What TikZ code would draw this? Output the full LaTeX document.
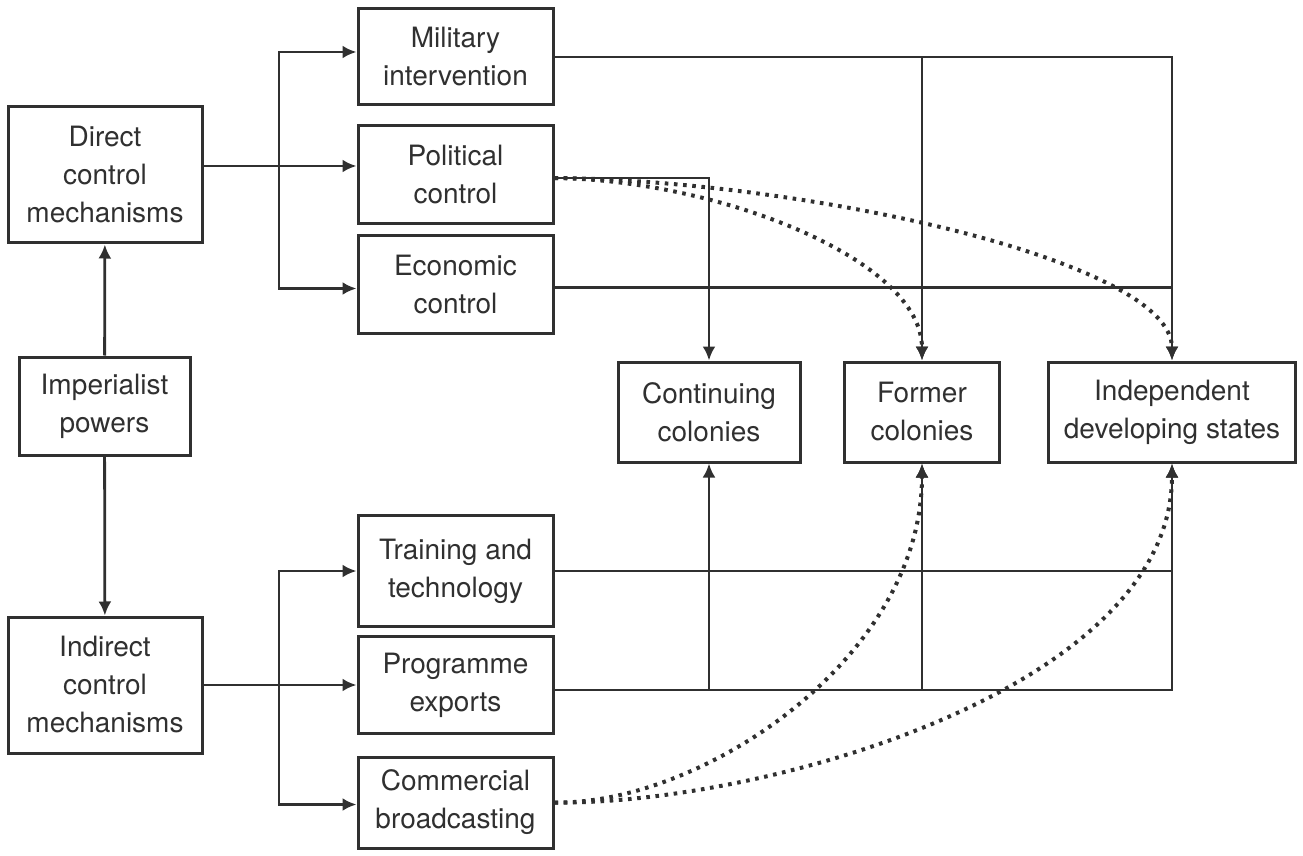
\documentclass[tikz,border=0pt]{standalone}
\usepackage{fontspec}
\setmainfont{TeX Gyre Heros}
\usetikzlibrary{arrows.meta}
\definecolor{ink}{HTML}{303030}
\tikzset{
  box/.style={draw=ink, line width=1.5pt, text=ink, align=center, inner sep=0pt,
    font=\fontsize{14pt}{19pt}\selectfont},
  link/.style={draw=ink, line width=1.4pt},
  arr/.style={link, -{Latex[length=7pt,width=6.5pt]}},
  dots/.style={draw=ink, line width=2pt, dash pattern=on 1.8pt off 2.8pt, -{Latex[length=7pt,width=6.5pt]}}
}
\begin{document}
\begin{tikzpicture}[x=0.5pt,y=-0.5pt]
\useasboundingbox (0,0) rectangle (1303,856);
% left column
\node[box, minimum width=97pt, minimum height=68pt] (dir) at (105,175) {Direct\\control\\mechanisms};
\node[box, minimum width=85.5pt, minimum height=49pt] (imp) at (104.5,406) {Imperialist\\powers};
\node[box, minimum width=97pt, minimum height=68pt] (ind) at (105,685) {Indirect\\control\\mechanisms};
% middle column
\foreach \n/\y/\h/\t in {mil/57/96/{Military\\intervention}, pol/175/98/{Political\\control}, eco/284.5/97/{Economic\\control}, tra/571/111/{Training and\\technology}, pro/685/97/{Programme\\exports}, com/802.5/91/{Commercial\\broadcasting}}
  \node[box, minimum width=97.5pt, minimum height=\h*0.5pt] (\n) at (455.5,\y) {\t};
% target states
\foreach \n/\x/\w/\t in {cont/709/182/{Continuing\\colonies}, form/922/155/{Former\\colonies}, indep/1172/247/{Independent\\developing states}}
  \node[box, minimum width=\w*0.5pt, minimum height=50pt] (\n) at (\x,412) {\t};

\draw[arr] (imp) -- (dir);
\draw[arr] (imp) -- (ind);
% direct branch
\coordinate (dsplit) at (279,166);
\draw[arr] ([yshift=4.5pt]dir.east) -- ([yshift=4.5pt]pol.west);
\draw[arr] (dsplit) |- ([yshift=2.5pt]mil.west);
\draw[arr] (dsplit) |- ([yshift=-2pt]eco.west);
% indirect branch
\coordinate (isplit) at (279,685);
\draw[arr] (ind.east) -- (pro.west);
\draw[arr] (isplit) |- (tra.west);
\draw[arr] (isplit) |- ([yshift=-1pt]com.west);
% into the states from above
\coordinate (eline) at ([yshift=-1.5pt]eco.east);
\draw[arr] (mil.east) -| (indep.north);
\draw[arr] (mil.east -| form.north) -- (form.north);
\draw[arr] ([yshift=-1.5pt]pol.east) -| (cont.north);
\draw[link] (eline) -- (eline -| indep.north);
% into the states from below
\coordinate (pline) at ([yshift=-2.5pt]pro.east);
\draw[link] (tra.east) -- (tra.east -| indep.south);
\draw[arr] (pline) -| (indep.south);
\draw[arr] (pline -| cont.south) -- (cont.south);
\draw[arr] (pline -| form.south) -- (form.south);
% dotted links
\draw[dots] ([yshift=-1.5pt]pol.east) .. controls (720,180) and (922,260) .. (form.north);
\draw[dots] ([yshift=-1.5pt]pol.east) .. controls (800,180) and (1172,260) .. (indep.north);
\draw[dots] (com.east) .. controls (700,805) and (922,660) .. (form.south);
\draw[dots] (com.east) .. controls (760,805) and (1172,690) .. (indep.south);
\end{tikzpicture}
\end{document}
